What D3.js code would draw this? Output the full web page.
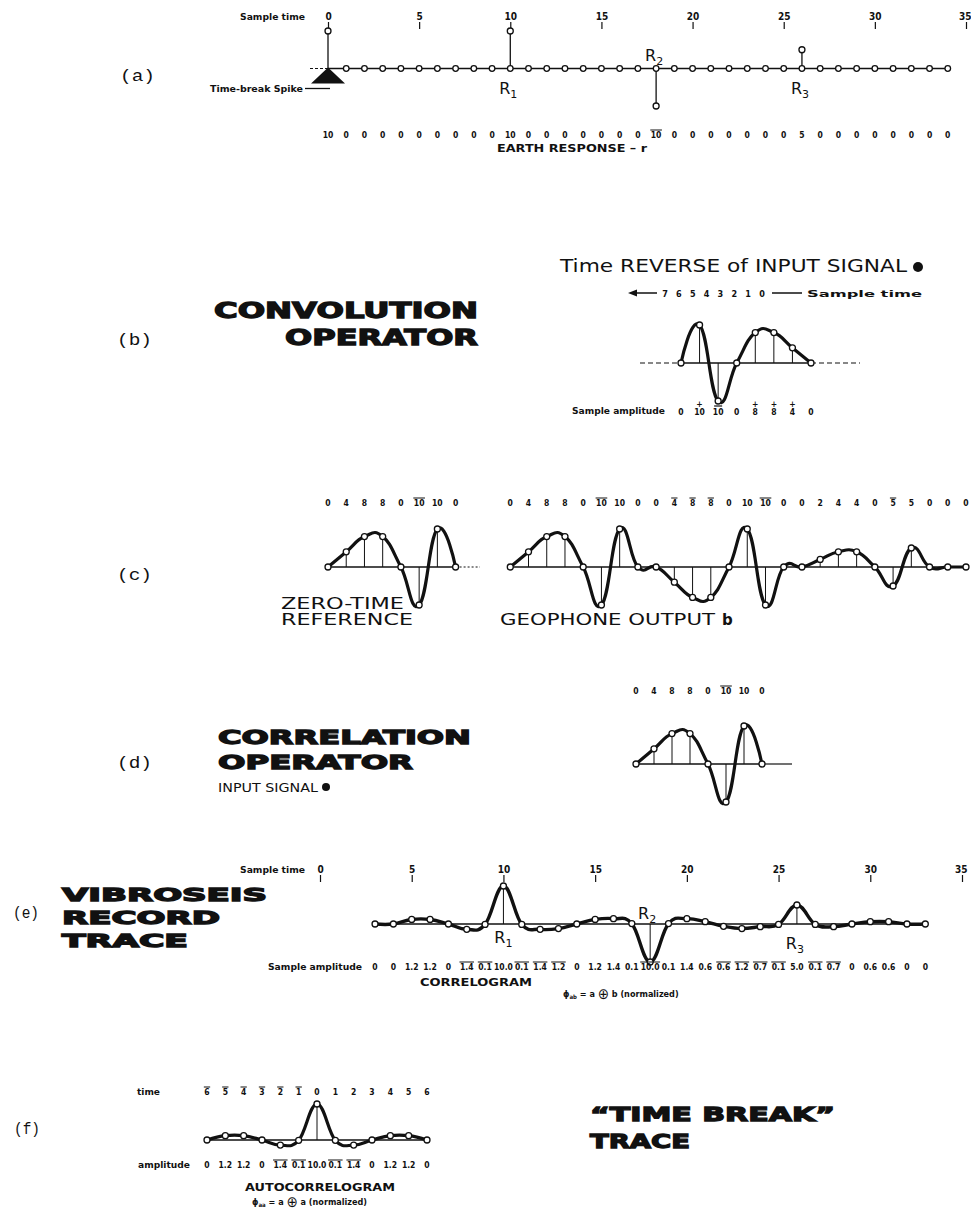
<!DOCTYPE html>
<html>
<head>
<meta charset="utf-8">
<script src="https://cdn.jsdelivr.net/npm/d3@7"></script>
<style>
  body { margin: 0; background: #fff; }
  svg { display: block; }
  text { fill: #111; }
  .plab { font-family: "Liberation Mono", "DejaVu Sans Mono", monospace; font-size: 16px; }
  .heavy { font-family: "DejaVu Sans"; font-weight: bold; stroke: #111; stroke-width: 1.3px; }
  .wide { font-family: "DejaVu Sans"; }
  .small { font-family: "DejaVu Sans Condensed", "DejaVu Sans"; font-weight: bold; font-size: 9px; }
  .num { font-family: "DejaVu Sans Condensed", "DejaVu Sans"; font-weight: bold; font-size: 8.5px; }
  .caps { font-family: "DejaVu Sans"; font-weight: bold; font-size: 11px; }
  .rlab { font-family: "DejaVu Sans"; font-size: 16px; }
</style>
</head>
<body>
<svg id="chart" width="971" height="1215"></svg>
<script>
// ---- data ----
const timeTicks = [0, 5, 10, 15, 20, 25, 30, 35];

// (a) earth response r, samples 0..34
const earthTime = [0,1,2,3,4,5,6,7,8,9,10,11,12,13,14,15,16,17,18,19,20,21,22,23,24,25,26,27,28,29,30,31,32,33,34];
const earthResponse = [10,0,0,0,0,0,0,0,0,0,10,0,0,0,0,0,0,0,-10,0,0,0,0,0,0,0,5,0,0,0,0,0,0,0,0];
const reflectors = [
  { name: "1", t: 10, pos: "below" },
  { name: "2", t: 18, pos: "above" },
  { name: "3", t: 26, pos: "below" }
];

// input signal a, samples 0..7
const signalTime = [0,1,2,3,4,5,6,7];
const inputSignal = [0,4,8,8,0,-10,10,0];

// (c) geophone output b, samples 10..35
const geophoneTime = [10,11,12,13,14,15,16,17,18,19,20,21,22,23,24,25,26,27,28,29,30,31,32,33,34,35];
const geophoneOutput = [0,4,8,8,0,-10,10,0,0,-4,-8,-8,0,10,-10,0,0,2,4,4,0,-5,5,0,0,0];

// (e) correlogram, samples 3..33
const corrTime = [3,4,5,6,7,8,9,10,11,12,13,14,15,16,17,18,19,20,21,22,23,24,25,26,27,28,29,30,31,32,33];
const correlogram = [0,0,1.2,1.2,0,-1.4,-0.1,10.0,-0.1,-1.4,-1.2,0,1.2,1.4,0.1,-10.0,0.1,1.4,0.6,-0.6,-1.2,-0.7,-0.1,5.0,-0.1,-0.7,0,0.6,0.6,0,0];

// (f) autocorrelogram, lags -6..6
const autoTime = [-6,-5,-4,-3,-2,-1,0,1,2,3,4,5,6];
const autocorrelogram = [0,1.2,1.2,0,-1.4,-0.1,10.0,-0.1,-1.4,0,1.2,1.2,0];

// ---- setup ----
const svg = d3.select("#chart");
const ink = "#111";

const fmtInt = v => String(Math.abs(v));
const fmtDec = v => v === 0 ? "0" : Math.abs(v).toFixed(1);

// numbers row; negative values get an overbar
function numRow(xs, vals, x, y, fmt) {
  const g = svg.append("g");
  const data = vals.map((v, i) => ({ t: xs[i], v: v }));
  g.selectAll("text").data(data).join("text")
    .attr("class", "num")
    .attr("x", d => x(d.t))
    .attr("y", y)
    .attr("text-anchor", "middle")
    .text(d => fmt(d.v))
    .each(function (d) {
      if (d.v < 0) {
        const w = this.getComputedTextLength();
        g.append("line")
          .attr("x1", x(d.t) - w / 2 - 0.5).attr("x2", x(d.t) + w / 2 + 0.5)
          .attr("y1", y - 8).attr("y2", y - 8)
          .attr("stroke", ink).attr("stroke-width", 1);
      }
    });
  return g;
}

// sampled wavelet: baseline, stems, smooth thick curve, open circles
function wave(xs, vals, x, y, opts) {
  const g = svg.append("g");
  const data = vals.map((v, i) => ({ t: xs[i], v: v }));
  const base = y(0);
  g.append("line")
    .attr("x1", x(xs[0])).attr("x2", x(xs[xs.length - 1]))
    .attr("y1", base).attr("y2", base)
    .attr("stroke", ink).attr("stroke-width", 1.4);
  g.selectAll(".stem").data(data.filter(d => Math.abs(d.v) >= (opts.stemMin || 0.01))).join("line")
    .attr("class", "stem")
    .attr("x1", d => x(d.t)).attr("x2", d => x(d.t))
    .attr("y1", base).attr("y2", d => y(d.v))
    .attr("stroke", ink).attr("stroke-width", 1);
  const line = d3.line()
    .x(d => x(d.t)).y(d => y(d.v))
    .curve(d3.curveCardinal.tension(opts.tension == null ? -0.4 : opts.tension));
  g.append("path")
    .attr("d", line(data))
    .attr("fill", "none").attr("stroke", ink)
    .attr("stroke-width", opts.width || 3.2)
    .attr("stroke-linejoin", "round");
  g.selectAll("circle").data(data).join("circle")
    .attr("cx", d => x(d.t)).attr("cy", d => y(d.v))
    .attr("r", 3).attr("fill", "#fff")
    .attr("stroke", ink).attr("stroke-width", 1.3);
  return g;
}

function label(x, y, txt, cls, len) {
  const t = svg.append("text").attr("class", cls).attr("x", x).attr("y", y).text(txt);
  if (len) t.attr("textLength", len).attr("lengthAdjust", "spacingAndGlyphs");
  return t;
}

function timeAxis(x, y, size) {
  const ax = d3.axisTop(x).tickValues(timeTicks).tickSize(size).tickPadding(2);
  const g = svg.append("g").attr("transform", "translate(0," + y + ")").call(ax);
  g.select(".domain").remove();
  g.selectAll(".tick line").attr("stroke", ink).attr("stroke-width", 1.2);
  g.selectAll(".tick text")
    .attr("font-family", "DejaVu Sans Condensed, DejaVu Sans")
    .attr("font-weight", "bold").attr("font-size", 10).attr("fill", ink);
  // keep the last label inside the page
  g.selectAll(".tick text").filter(d => d === timeTicks[timeTicks.length - 1])
    .attr("text-anchor", "end").attr("dx", 5);
  return g;
}

function rLabel(x, y, sub) {
  const t = svg.append("text").attr("class", "rlab").attr("x", x).attr("y", y)
    .attr("text-anchor", "middle");
  t.append("tspan").text("R");
  t.append("tspan").attr("font-size", 11).attr("dy", 4).text(sub);
}

function formula(x, y, sub, right) {
  const f = svg.append("text").attr("class", "small").attr("x", x).attr("y", y);
  f.append("tspan").text("\u03D5");
  f.append("tspan").attr("font-size", 6).attr("dy", 2).text(sub);
  f.append("tspan").attr("dy", -2).text(" = a ");
  f.append("tspan").attr("font-size", 15).attr("dy", 2).attr("font-weight", "normal").text("\u2295");
  f.append("tspan").attr("dy", -2).text(" " + right + " (normalized)");
}

// ---- (a) earth response ----
const xA = d3.scaleLinear().domain([0, 35]).range([328, 966]);
const yA = d3.scaleLinear().domain([-10, 10]).range([106, 31]);
label(120, 81, "(a)", "plab", 35);
label(240, 20, "Sample time", "small", 65);
timeAxis(xA, 29, 7);

const gA = svg.append("g");
const eData = earthResponse.map((v, i) => ({ t: earthTime[i], v: v }));
gA.append("line")
  .attr("x1", xA(0) - 18).attr("x2", xA(0))
  .attr("y1", yA(0)).attr("y2", yA(0))
  .attr("stroke", ink).attr("stroke-width", 1).attr("stroke-dasharray", "3,2");
gA.append("line")
  .attr("x1", xA(0)).attr("x2", xA(earthTime[earthTime.length - 1]))
  .attr("y1", yA(0)).attr("y2", yA(0))
  .attr("stroke", ink).attr("stroke-width", 1.4);
gA.selectAll(".stem").data(eData.filter(d => d.v !== 0)).join("line")
  .attr("x1", d => xA(d.t)).attr("x2", d => xA(d.t))
  .attr("y1", yA(0)).attr("y2", d => yA(d.v))
  .attr("stroke", ink).attr("stroke-width", 1.3);
// time-break spike marker
gA.append("path")
  .attr("d", "M" + xA(0) + "," + (yA(0) - 1) + "L" + (xA(0) + 17) + "," + (yA(0) + 15) +
             "L" + (xA(0) - 17) + "," + (yA(0) + 15) + "Z")
  .attr("fill", ink);
gA.append("line")
  .attr("x1", xA(0) - 23).attr("x2", xA(0) + 2)
  .attr("y1", yA(0) + 20).attr("y2", yA(0) + 20)
  .attr("stroke", ink).attr("stroke-width", 1.3);
label(210, 92, "Time-break Spike", "small", 93);
gA.selectAll(".bc").data(eData.filter(d => d.t !== 0)).join("circle")
  .attr("cx", d => xA(d.t)).attr("cy", yA(0)).attr("r", 2.8)
  .attr("fill", "#fff").attr("stroke", ink).attr("stroke-width", 1.3);
gA.selectAll(".vc").data(eData.filter(d => d.v !== 0)).join("circle")
  .attr("cx", d => xA(d.t)).attr("cy", d => yA(d.v)).attr("r", 3)
  .attr("fill", "#fff").attr("stroke", ink).attr("stroke-width", 1.3);
reflectors.forEach(r => {
  rLabel(xA(r.t) - 2, r.pos === "below" ? yA(0) + 25 : yA(0) - 8, r.name);
});
numRow(earthTime, earthResponse, xA, 138, fmtInt);
label(497, 152, "EARTH RESPONSE \u2013 r", "caps", 150);

// ---- (b) time reverse of input signal ----
const xB = d3.scaleLinear().domain([0, 7]).range([811, 681]);
const xBl = d3.scaleLinear().domain([0, 7]).range([762, 665]);
const yB = d3.scaleLinear().domain([-10, 10]).range([401, 325]);
label(117, 345, "(b)", "plab", 35);
label(214, 318, "CONVOLUTION", "heavy", 264).attr("font-size", 21);
label(285, 345, "OPERATOR", "heavy", 193).attr("font-size", 21);
label(560, 272, "Time REVERSE of INPUT SIGNAL ", "wide", 347).attr("font-size", 17);
svg.append("circle").attr("cx", 918).attr("cy", 267).attr("r", 5).attr("fill", ink);

svg.append("g").selectAll("text").data(signalTime).join("text")
  .attr("class", "small").attr("font-size", 10)
  .attr("x", d => xBl(d)).attr("y", 297).attr("text-anchor", "middle")
  .text(d => d);
svg.append("line").attr("x1", 632).attr("x2", 657).attr("y1", 293).attr("y2", 293)
  .attr("stroke", ink).attr("stroke-width", 1.5);
svg.append("path").attr("d", "M628,293L637,289.5L637,296.5Z").attr("fill", ink);
svg.append("line").attr("x1", 772).attr("x2", 802).attr("y1", 293).attr("y2", 293)
  .attr("stroke", ink).attr("stroke-width", 1.5);
label(807, 297, "Sample time", "small", 115);

svg.append("line").attr("x1", 640).attr("x2", xB(7)).attr("y1", yB(0)).attr("y2", yB(0))
  .attr("stroke", ink).attr("stroke-width", 1.2).attr("stroke-dasharray", "5,3");
svg.append("line").attr("x1", xB(0)).attr("x2", 860).attr("y1", yB(0)).attr("y2", yB(0))
  .attr("stroke", ink).attr("stroke-width", 1.2).attr("stroke-dasharray", "5,3");
wave(signalTime, inputSignal, xB, yB, {});

label(572, 414, "Sample amplitude", "small", 93);
const gBn = svg.append("g");
inputSignal.forEach((v, i) => {
  const x = xB(signalTime[i]);
  gBn.append("text").attr("class", "num").attr("x", x).attr("y", 415)
    .attr("text-anchor", "middle").text(fmtInt(v));
  if (v > 0) {
    gBn.append("text").attr("class", "num").attr("x", x).attr("y", 407)
      .attr("text-anchor", "middle").text("+");
  } else if (v < 0) {
    gBn.append("line").attr("x1", x - 4).attr("x2", x + 4).attr("y1", 406).attr("y2", 406)
      .attr("stroke", ink).attr("stroke-width", 1.2);
  }
});

// ---- (c) zero-time reference and geophone output ----
const yC = d3.scaleLinear().domain([-10, 10]).range([605, 529]);
label(117, 580, "(c)", "plab", 35);
svg.append("line").attr("x1", xA(7)).attr("x2", 480).attr("y1", yC(0)).attr("y2", yC(0))
  .attr("stroke", ink).attr("stroke-width", 1.2).attr("stroke-dasharray", "2,2");
wave(signalTime, inputSignal, xA, yC, {});
wave(geophoneTime, geophoneOutput, xA, yC, {});
numRow(signalTime, inputSignal, xA, 506, fmtInt);
numRow(geophoneTime, geophoneOutput, xA, 506, fmtInt);
label(281, 609, "ZERO-TIME", "wide", 123).attr("font-size", 15);
label(281, 625, "REFERENCE", "wide", 132).attr("font-size", 15);
label(500, 625, "GEOPHONE  OUTPUT ", "wide", 215).attr("font-size", 15);
label(722, 625, "b", "wide").attr("font-size", 15).attr("font-weight", "bold");

// ---- (d) correlation operator ----
const xD = d3.scaleLinear().domain([0, 7]).range([636, 762]);
const yD = d3.scaleLinear().domain([-10, 10]).range([802, 726]);
label(117, 768, "(d)", "plab", 35);
label(218, 744, "CORRELATION", "heavy", 253).attr("font-size", 19);
label(218, 769, "OPERATOR", "heavy", 195).attr("font-size", 19);
label(218, 792, "INPUT SIGNAL ", "wide", 100).attr("font-size", 13);
svg.append("circle").attr("cx", 326).attr("cy", 787).attr("r", 4).attr("fill", ink);
svg.append("line").attr("x1", xD(7)).attr("x2", 792).attr("y1", yD(0)).attr("y2", yD(0))
  .attr("stroke", ink).attr("stroke-width", 1.2);
wave(signalTime, inputSignal, xD, yD, {});
numRow(signalTime, inputSignal, xD, 694, fmtInt);

// ---- (e) vibroseis record trace ----
const xE = d3.scaleLinear().domain([0, 35]).range([320, 962]);
const yE = d3.scaleLinear().domain([-10, 10]).range([962, 886]);
label(13, 918, "(e)", "plab", 26);
label(62, 901, "VIBROSEIS", "heavy", 205).attr("font-size", 17.5);
label(62, 924, "RECORD", "heavy", 158).attr("font-size", 17.5);
label(62, 947, "TRACE", "heavy", 126).attr("font-size", 17.5);
label(240, 873, "Sample time", "small", 65);
timeAxis(xE, 882, 7);
wave(corrTime, correlogram, xE, yE, { stemMin: 5, width: 3.4, tension: -0.2 });
rLabel(xE(10), 943, "1");
rLabel(xE(18) - 3, 919, "2");
rLabel(xE(26) - 2, 949, "3");
label(268, 970, "Sample amplitude", "small", 94);
numRow(corrTime, correlogram, xE, 970, fmtDec);
label(420, 986, "CORRELOGRAM", "caps", 112);
formula(563, 997, "ab", "b");

// ---- (f) time break trace ----
const xF = d3.scaleLinear().domain([-6, 6]).range([207, 427]);
const yF = d3.scaleLinear().domain([-10, 10]).range([1176, 1104]);
label(14, 1134, "(f)", "plab", 26);
label(137, 1095, "time", "small", 23);
numRow(autoTime, autoTime, xF, 1095, fmtInt).selectAll("text").attr("font-size", 9);
wave(autoTime, autocorrelogram, xF, yF, { stemMin: 5, width: 3.2, tension: -0.2 });
label(138, 1168, "amplitude", "small", 52);
numRow(autoTime, autocorrelogram, xF, 1168, fmtDec);
label(245, 1191, "AUTOCORRELOGRAM", "caps", 150);
formula(252, 1205, "aa", "a");
label(590, 1121, "\u201CTIME BREAK\u201D", "heavy", 245).attr("font-size", 20);
label(590, 1148, "TRACE", "heavy", 100).attr("font-size", 20);
</script>
</body>
</html>
